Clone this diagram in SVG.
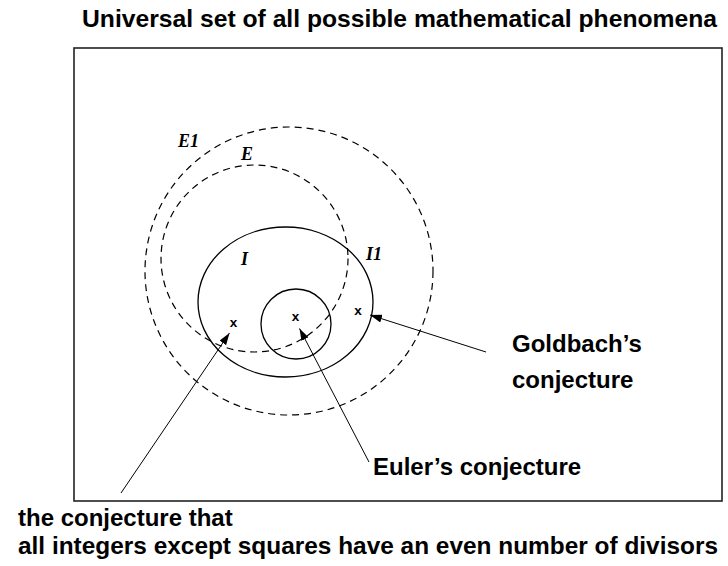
<svg xmlns="http://www.w3.org/2000/svg" width="728" height="566" viewBox="0 0 728 566">
<defs>
<style>
.lbl{font-family:"Liberation Sans",Arial,sans-serif;font-weight:bold;font-size:24px;fill:#000}
.set{font-family:"Liberation Serif","Times New Roman",serif;font-weight:bold;font-style:italic;font-size:18px;fill:#000}
.pt{font-family:"Liberation Sans",Arial,sans-serif;font-weight:bold;font-size:13.5px;fill:#000;text-anchor:middle}
.solid{fill:none;stroke:#000;stroke-width:1.3}
.dash{fill:none;stroke:#000;stroke-width:1.2;stroke-dasharray:7 5}
.arr{fill:none;stroke:#000;stroke-width:1;marker-end:url(#ah)}
</style>
<marker id="ah" markerUnits="userSpaceOnUse" markerWidth="12" markerHeight="8" refX="12" refY="4" orient="auto">
<path d="M0,0 L12,4 L0,8 Z" fill="#000"/>
</marker>
</defs>
<text class="lbl" x="82" y="27" textLength="635" lengthAdjust="spacingAndGlyphs">Universal set of all possible mathematical phenomena</text>
<rect x="74" y="48" width="648" height="453" fill="none" stroke="#222" stroke-width="1.6"/>
<g id="E1"><circle class="dash" cx="289" cy="271" r="144"/><text class="set" x="178" y="147">E1</text></g>
<g id="E"><circle class="dash" cx="254.5" cy="258.5" r="93.5"/><text class="set" x="241" y="160">E</text></g>
<g id="I1"><ellipse class="solid" cx="285.5" cy="302" rx="87.5" ry="75"/><text class="set" x="366" y="260">I1</text></g>
<g id="I"><circle class="solid" cx="296" cy="324" r="35"/><text class="set" x="241" y="265">I</text></g>
<g id="p1"><text class="pt" x="233.5" y="327">x</text></g>
<g id="p2"><text class="pt" x="295.5" y="321">x</text></g>
<g id="p3"><text class="pt" x="358" y="315">x</text></g>
<g id="goldbach"><text class="lbl" x="512" y="352">Goldbach’s</text><text class="lbl" x="512" y="388">conjecture</text></g>
<g id="euler"><text class="lbl" x="373" y="475">Euler’s conjecture</text></g>
<g id="divisors"><text class="lbl" x="18" y="526">the conjecture that</text><text class="lbl" x="18" y="554" textLength="700" lengthAdjust="spacingAndGlyphs">all integers except squares have an even number of divisors</text></g>
<g id="connectors">
<line class="arr" x1="486" y1="352" x2="370" y2="315"/>
<line class="arr" x1="369" y1="462" x2="299.5" y2="328.5"/>
<line class="arr" x1="121" y1="493" x2="229.5" y2="333"/>
</g>
</svg>
